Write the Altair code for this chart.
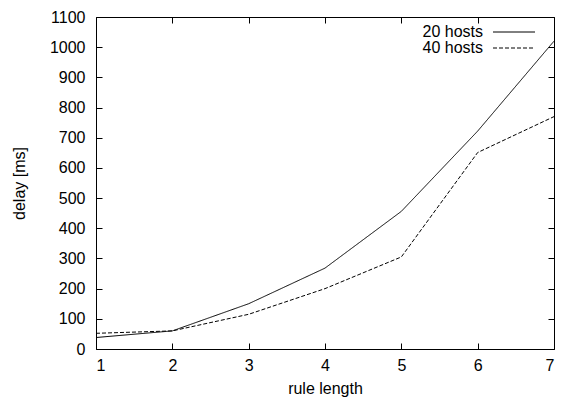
import altair as alt
import pandas as pd

rule_length = [1, 2, 3, 4, 5, 6, 7]
hosts20 = [38, 60, 150, 268, 456, 722, 1020]
hosts40 = [52, 60, 115, 200, 305, 651, 770]
series_names = ["20 hosts", "40 hosts"]
x_ticks = [1, 2, 3, 4, 5, 6, 7]
y_ticks = [0, 100, 200, 300, 400, 500, 600, 700, 800, 900, 1000, 1100]

rows = []
for name, vals in zip(series_names, [hosts20, hosts40]):
    for xv, yv in zip(rule_length, vals):
        rows.append({"rule_length": xv, "delay": yv, "series": name})
df = pd.DataFrame(rows)

FONT = "Liberation Sans"
FS = 16

xscale = alt.Scale(domain=[1, 7], nice=False, zero=False)
yscale = alt.Scale(domain=[0, 1100], nice=False, zero=True)

common_axis = dict(offset=-6, tickSize=6, domain=False, grid=False,
                   tickColor="black", tickWidth=1, labelColor="black",
                   labelFont=FONT, labelFontSize=FS, titleFont=FONT,
                   titleFontSize=FS, titleColor="black", titleFontWeight="normal")

x_main = alt.X("rule_length:Q", scale=xscale,
               axis=alt.Axis(orient="bottom", values=x_ticks, format="d",
                             title="rule length", labelPadding=8, titlePadding=7,
                             **common_axis))
y_main = alt.Y("delay:Q", scale=yscale,
               axis=alt.Axis(orient="left", values=y_ticks, format="d",
                             title="delay [ms]", labelPadding=11, titlePadding=22,
                             **common_axis))

lines = alt.Chart(df).mark_line(color="black", strokeWidth=1).encode(
    x=x_main,
    y=y_main,
    strokeDash=alt.StrokeDash(
        "series:N",
        scale=alt.Scale(domain=series_names, range=[[1, 0], [4, 2]]),
        legend=alt.Legend(
            title=None, orient="none", legendX=410, legendY=7,
            symbolType="M-3,0H3", symbolSize=196, symbolStrokeColor="black",
            symbolStrokeWidth=1, labelAlign="right",
            labelOffset={"expr": "-39"},
            labelFont=FONT, labelFontSize=FS, labelColor="black",
            padding=0, rowPadding=0,
        ),
    ),
)

mirror = alt.Chart(df).mark_line(opacity=0).encode(
    x=alt.X("rule_length:Q", scale=xscale,
            axis=alt.Axis(orient="top", values=x_ticks, labels=False, title=None,
                          offset=-6, tickSize=6, domain=False, grid=False,
                          tickColor="black", tickWidth=1)),
    y=alt.Y("delay:Q", scale=yscale,
            axis=alt.Axis(orient="right", values=y_ticks, labels=False, title=None,
                          offset=-6, tickSize=6, domain=False, grid=False,
                          tickColor="black", tickWidth=1)),
    detail="series:N",
)

chart = alt.layer(lines, mirror).resolve_scale(
    x="independent", y="independent"
).properties(
    width=458, height=332,
    autosize=alt.AutoSizeParams(type="none"),
    padding={"left": 88, "top": 9, "right": 13, "bottom": 48},
    background="white",
).configure_view(stroke="black", strokeWidth=1)

chart.save("out.html", embed_options={"renderer": "svg", "actions": False})
